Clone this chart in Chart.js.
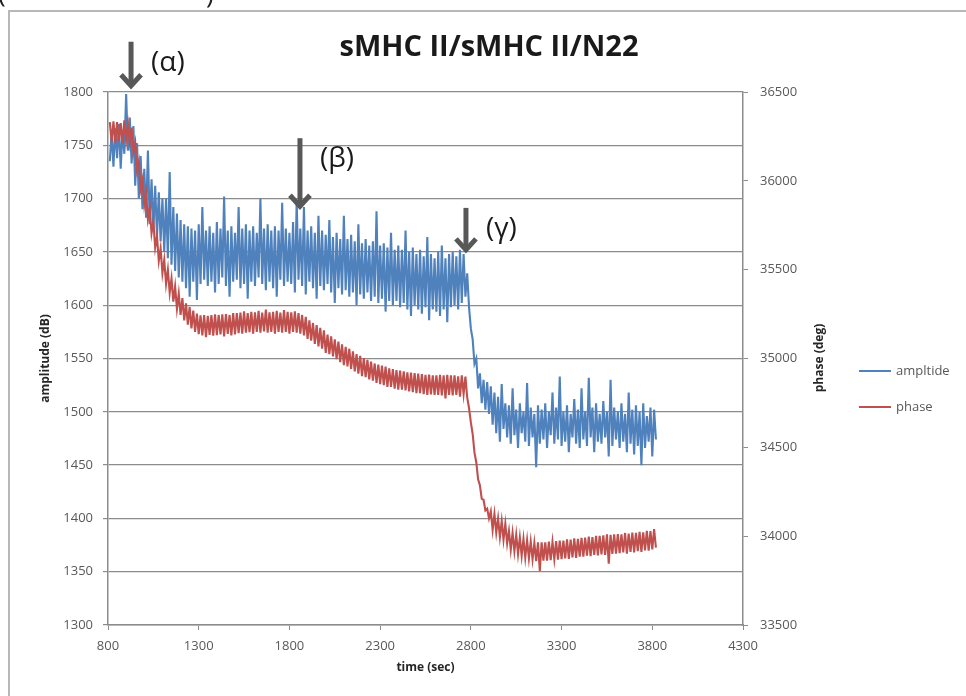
<!DOCTYPE html>
<html>
<head>
<meta charset="utf-8">
<title>sMHC II/sMHC II/N22</title>
<script src="https://cdn.jsdelivr.net/npm/chart.js@4.4.1/dist/chart.umd.min.js"></script>
<style>
  html, body { margin: 0; padding: 0; background: #fff; }
</style>
</head>
<body>
<canvas id="graficoSinal" width="966" height="696"></canvas>
<script>
// Tempo de cada amostra (s)
const tempos = [
    810, 820, 830, 840, 850, 860, 870, 880, 890, 900,
    910, 920, 930, 940, 950, 960, 970, 980, 990, 1000,
    1010, 1020, 1030, 1040, 1050, 1060, 1070, 1080, 1090, 1100,
    1110, 1120, 1130, 1140, 1150, 1160, 1170, 1180, 1190, 1200,
    1210, 1220, 1230, 1240, 1250, 1260, 1270, 1280, 1290, 1300,
    1310, 1320, 1330, 1340, 1350, 1360, 1370, 1380, 1390, 1400,
    1410, 1420, 1430, 1440, 1450, 1460, 1470, 1480, 1490, 1500,
    1510, 1520, 1530, 1540, 1550, 1560, 1570, 1580, 1590, 1600,
    1610, 1620, 1630, 1640, 1650, 1660, 1670, 1680, 1690, 1700,
    1710, 1720, 1730, 1740, 1750, 1760, 1770, 1780, 1790, 1800,
    1810, 1820, 1830, 1840, 1850, 1860, 1870, 1880, 1890, 1900,
    1910, 1920, 1930, 1940, 1950, 1960, 1970, 1980, 1990, 2000,
    2010, 2020, 2030, 2040, 2050, 2060, 2070, 2080, 2090, 2100,
    2110, 2120, 2130, 2140, 2150, 2160, 2170, 2180, 2190, 2200,
    2210, 2220, 2230, 2240, 2250, 2260, 2270, 2280, 2290, 2300,
    2310, 2320, 2330, 2340, 2350, 2360, 2370, 2380, 2390, 2400,
    2410, 2420, 2430, 2440, 2450, 2460, 2470, 2480, 2490, 2500,
    2510, 2520, 2530, 2540, 2550, 2560, 2570, 2580, 2590, 2600,
    2610, 2620, 2630, 2640, 2650, 2660, 2670, 2680, 2690, 2700,
    2710, 2720, 2730, 2740, 2750, 2760, 2770, 2780, 2790, 2800,
    2810, 2820, 2830, 2840, 2850, 2860, 2870, 2880, 2890, 2900,
    2910, 2920, 2930, 2940, 2950, 2960, 2970, 2980, 2990, 3000,
    3010, 3020, 3030, 3040, 3050, 3060, 3070, 3080, 3090, 3100,
    3110, 3120, 3130, 3140, 3150, 3160, 3170, 3180, 3190, 3200,
    3210, 3220, 3230, 3240, 3250, 3260, 3270, 3280, 3290, 3300,
    3310, 3320, 3330, 3340, 3350, 3360, 3370, 3380, 3390, 3400,
    3410, 3420, 3430, 3440, 3450, 3460, 3470, 3480, 3490, 3500,
    3510, 3520, 3530, 3540, 3550, 3560, 3570, 3580, 3590, 3600,
    3610, 3620, 3630, 3640, 3650, 3660, 3670, 3680, 3690, 3700,
    3710, 3720, 3730, 3740, 3750, 3760, 3770, 3780, 3790, 3800,
    3810, 3820
];

// Amplitude (dB) - eixo esquerdo
const amplitude = [
    1735, 1762, 1730, 1766, 1738, 1770, 1728, 1764, 1742, 1798,
    1745, 1776, 1733, 1768, 1712, 1752, 1700, 1740, 1690, 1728,
    1682, 1745, 1676, 1718, 1670, 1712, 1664, 1706, 1660, 1700,
    1650, 1700, 1644, 1725, 1638, 1692, 1632, 1686, 1626, 1680,
    1622, 1676, 1616, 1674, 1608, 1672, 1622, 1670, 1605, 1676,
    1620, 1692, 1624, 1670, 1618, 1674, 1622, 1668, 1612, 1678,
    1620, 1672, 1626, 1702, 1618, 1670, 1608, 1674, 1622, 1668,
    1624, 1692, 1616, 1672, 1620, 1676, 1606, 1670, 1622, 1674,
    1618, 1668, 1626, 1700, 1620, 1672, 1614, 1676, 1622, 1670,
    1616, 1674, 1608, 1670, 1624, 1696, 1618, 1672, 1622, 1668,
    1620, 1678, 1612, 1698, 1624, 1672, 1618, 1692, 1610, 1670,
    1622, 1674, 1616, 1668, 1606, 1684, 1618, 1670, 1614, 1666,
    1620, 1680, 1612, 1664, 1602, 1668, 1616, 1662, 1610, 1684,
    1614, 1662, 1608, 1666, 1612, 1660, 1600, 1676, 1610, 1658,
    1606, 1662, 1612, 1656, 1604, 1660, 1608, 1688, 1602, 1656,
    1606, 1658, 1594, 1654, 1604, 1668, 1600, 1652, 1604, 1656,
    1598, 1652, 1602, 1670, 1596, 1650, 1590, 1654, 1600, 1648,
    1596, 1652, 1592, 1646, 1598, 1664, 1586, 1648, 1596, 1644,
    1594, 1650, 1590, 1656, 1596, 1644, 1584, 1648, 1598, 1650,
    1600, 1646, 1596, 1652, 1602, 1648, 1608, 1630, 1598, 1578,
    1568, 1545, 1550, 1522, 1536, 1508, 1530, 1502, 1528, 1498,
    1524, 1488, 1518, 1480, 1514, 1472, 1526, 1484, 1508, 1476,
    1506, 1470, 1522, 1478, 1502, 1466, 1508, 1480, 1500, 1472,
    1527, 1468, 1504, 1476, 1498, 1448, 1506, 1470, 1502, 1474,
    1508, 1466, 1500, 1478, 1518, 1470, 1504, 1474, 1533, 1468,
    1500, 1472, 1506, 1462, 1498, 1476, 1512, 1470, 1502, 1466,
    1522, 1474, 1500, 1468, 1532, 1476, 1504, 1462, 1508, 1472,
    1498, 1470, 1510, 1476, 1500, 1458, 1530, 1468, 1504, 1474,
    1500, 1466, 1508, 1472, 1498, 1462, 1518, 1470, 1502, 1460,
    1506, 1468, 1500, 1450, 1508, 1466, 1496, 1472, 1504, 1458,
    1502, 1474
];

// Fase (graus) - eixo direito
const fase = [
    36330, 36220, 36335, 36215, 36330, 36225, 36325, 36210, 36340, 36230,
    36320, 36215, 36300, 36160, 36215, 36060, 36110, 35955, 36005, 35865,
    35930, 35785, 35850, 35705, 35770, 35625, 35690, 35550, 35620, 35480,
    35555, 35420, 35500, 35370, 35450, 35320, 35405, 35280, 35365, 35245,
    35340, 35215, 35310, 35190, 35290, 35170, 35270, 35150, 35253, 35137,
    35243, 35130, 35245, 35120, 35240, 35133, 35245, 35128, 35248, 35132,
    35245, 35135, 35248, 35125, 35250, 35138, 35245, 35130, 35255, 35135,
    35255, 35143, 35258, 35140, 35265, 35145, 35255, 35148, 35262, 35140,
    35260, 35150, 35268, 35145, 35258, 35152, 35275, 35145, 35260, 35150,
    35262, 35140, 35268, 35150, 35258, 35145, 35272, 35150, 35262, 35140,
    35260, 35150, 35265, 35145, 35255, 35140, 35245, 35130, 35235, 35110,
    35215, 35100, 35200, 35082, 35188, 35068, 35172, 35056, 35158, 35032,
    35135, 35025, 35125, 35012, 35108, 34997, 35095, 34980, 35080, 34962,
    35065, 34955, 35055, 34942, 35040, 34928, 35025, 34915, 35015, 34900,
    35002, 34895, 34992, 34882, 34982, 34875, 34972, 34862, 34965, 34855,
    34960, 34850, 34955, 34840, 34945, 34840, 34940, 34830, 34935, 34825,
    34932, 34825, 34928, 34820, 34922, 34815, 34920, 34810, 34918, 34805,
    34915, 34805, 34912, 34800, 34908, 34795, 34910, 34798, 34905, 34795,
    34905, 34795, 34908, 34792, 34905, 34775, 34908, 34795, 34905, 34792,
    34905, 34795, 34900, 34785, 34905, 34800, 34898, 34780, 34720, 34640,
    34575, 34470, 34415, 34320, 34285, 34210, 34205, 34145, 34155, 34100,
    34140, 34035, 34125, 34020, 34100, 33995, 34085, 33980, 34070, 33960,
    34030, 33925, 34018, 33915, 34008, 33900, 33992, 33890, 33985, 33880,
    33978, 33875, 33970, 33870, 33962, 33860, 33965, 33805, 33965, 33862,
    33965, 33862, 33970, 33865, 33968, 33870, 33972, 33868, 33975, 33870,
    33975, 33875, 33982, 33872, 33980, 33880, 33988, 33878, 33985, 33885,
    33990, 33885, 33992, 33890, 33998, 33888, 33995, 33895, 34002, 33892,
    34002, 33898, 34005, 33895, 34010, 33845, 34008, 33900, 34010, 33902,
    34012, 33905, 34010, 33908, 34018, 33902, 34015, 33912, 34020, 33908,
    34018, 33915, 34025, 33912, 34022, 33920, 34030, 33918, 34028, 33925,
    34040, 33935
];

// Marcadores dos eventos (setas)
const marcadores = ['(α)', '(β)', '(γ)'];
const tempoMarcadores = [927, 1858, 2773];
const ampMarcadores = [1804, 1691, 1650];

const corAmplitude = '#4F81BD';
const corFase = '#C0504D';
const corEixo = '#8c8c8c';
const corTexto = '#595959';

// Desenha moldura, título, setas, legenda e título do eixo direito
const anotacoes = {
    id: 'anotacoes',
    beforeDraw(chart) {
        const ctx = chart.ctx;
        ctx.save();
        ctx.fillStyle = '#fff';
        ctx.fillRect(0, 0, chart.width, chart.height);

        // moldura cinza
        ctx.strokeStyle = '#b8b8b8';
        ctx.lineWidth = 2;
        ctx.beginPath();
        ctx.moveTo(9, chart.height);
        ctx.lineTo(9, 11);
        ctx.lineTo(chart.width, 11);
        ctx.stroke();

        // parênteses cortados no topo
        ctx.fillStyle = '#222';
        ctx.font = '26px "Open Sans"';
        ctx.textBaseline = 'alphabetic';
        ctx.fillText('(', -2, 2);
        ctx.fillText(')', 206, 3);
        ctx.restore();
    },
    afterDraw(chart) {
        const ctx = chart.ctx;
        const xEscala = chart.scales.x;
        const yEscala = chart.scales.y;
        ctx.save();

        // título
        ctx.fillStyle = '#1a1a1a';
        ctx.font = 'bold 29px "Open Sans"';
        ctx.textAlign = 'center';
        ctx.textBaseline = 'middle';
        ctx.fillText('sMHC II/sMHC II/N22', 489, 48);

        // título do eixo direito
        ctx.save();
        ctx.translate(820, 358);
        ctx.rotate(-Math.PI / 2);
        ctx.fillStyle = '#262626';
        ctx.font = 'bold 12px "Open Sans"';
        ctx.fillText('phase (deg)', 0, 0);
        ctx.restore();

        // legenda
        const itens = [[chart.data.datasets[0].label, corAmplitude, 371], [chart.data.datasets[1].label, corFase, 407]];
        ctx.font = '13px "Open Sans"';
        ctx.textAlign = 'left';
        itens.forEach(([texto, cor, y]) => {
            ctx.strokeStyle = cor;
            ctx.lineWidth = 2;
            ctx.beginPath();
            ctx.moveTo(859, y);
            ctx.lineTo(891, y);
            ctx.stroke();
            ctx.fillStyle = corTexto;
            ctx.fillText(texto, 896, y);
        });

        // setas dos eventos
        const comprimentos = [46, 70, 44];
        ctx.strokeStyle = '#585858';
        ctx.lineWidth = 5;
        ctx.lineJoin = 'miter';
        ctx.font = '28px "Open Sans"';
        ctx.fillStyle = '#1a1a1a';
        marcadores.forEach((texto, i) => {
            const x = xEscala.getPixelForValue(tempoMarcadores[i]);
            const ponta = yEscala.getPixelForValue(ampMarcadores[i]);
            const topo = ponta - comprimentos[i];
            ctx.beginPath();
            ctx.moveTo(x, topo);
            ctx.lineTo(x, ponta - 3);
            ctx.stroke();
            ctx.beginPath();
            ctx.moveTo(x - 10, ponta - 13);
            ctx.lineTo(x, ponta - 2);
            ctx.lineTo(x + 10, ponta - 13);
            ctx.stroke();
            ctx.fillText(texto, x + 20, topo + 21);
        });
        ctx.restore();
    }
};

const fonteTicks = { family: "'Open Sans'", size: 13 };
const fonteTitulo = { family: "'Open Sans'", size: 12, weight: 'bold' };

const ctx = document.getElementById('graficoSinal').getContext('2d');
const grafico = new Chart(ctx, {
    type: 'line',
    data: {
        datasets: [{
            label: 'ampltide',
            data: tempos.map((t, i) => ({ x: t, y: amplitude[i] })),
            yAxisID: 'y',
            borderColor: corAmplitude,
            borderWidth: 2.1,
            pointRadius: 0,
            order: 1
        },
        {
            label: 'phase',
            data: tempos.map((t, i) => ({ x: t, y: fase[i] })),
            yAxisID: 'y1',
            borderColor: corFase,
            borderWidth: 2.1,
            pointRadius: 0,
            order: 0
        }]
    },
    options: {
        responsive: false,
        animation: false,
        layout: { padding: { left: 30, right: 123, top: 92, bottom: 11 } },
        plugins: {
            legend: { display: false },
            tooltip: { enabled: false }
        },
        scales: {
            x: {
                type: 'linear',
                min: 800,
                max: 4300,
                ticks: { stepSize: 500, padding: 8, color: corTexto, font: fonteTicks, maxRotation: 0, callback: v => String(v) },
                grid: { drawOnChartArea: false, tickLength: 5, color: corEixo },
                border: { color: corEixo, width: 1.5 },
                title: { display: true, text: 'time (sec)', color: '#262626', font: fonteTitulo, padding: { top: 0, bottom: 10 } },
                afterFit(escala) { escala.height = 60; }
            },
            y: {
                position: 'left',
                min: 1300,
                max: 1800,
                ticks: { stepSize: 50, padding: 10, color: corTexto, font: fonteTicks, callback: v => String(v) },
                grid: { color: corEixo, lineWidth: 1.2, tickLength: 5 },
                border: { color: corEixo, width: 1.5 },
                title: { display: true, text: 'amplitude (dB)', color: '#262626', font: fonteTitulo, padding: { top: 8, bottom: 0 } },
                afterFit(escala) { escala.width = 78; }
            },
            y1: {
                position: 'right',
                min: 33500,
                max: 36500,
                ticks: { stepSize: 500, padding: 12, color: corTexto, font: fonteTicks, callback: v => String(v) },
                grid: { drawOnChartArea: false, tickLength: 5, color: corEixo },
                border: { color: corEixo, width: 1.5 },
                afterFit(escala) { escala.width = 100; }
            }
        }
    },
    plugins: [anotacoes]
});
</script>
</body>
</html>
